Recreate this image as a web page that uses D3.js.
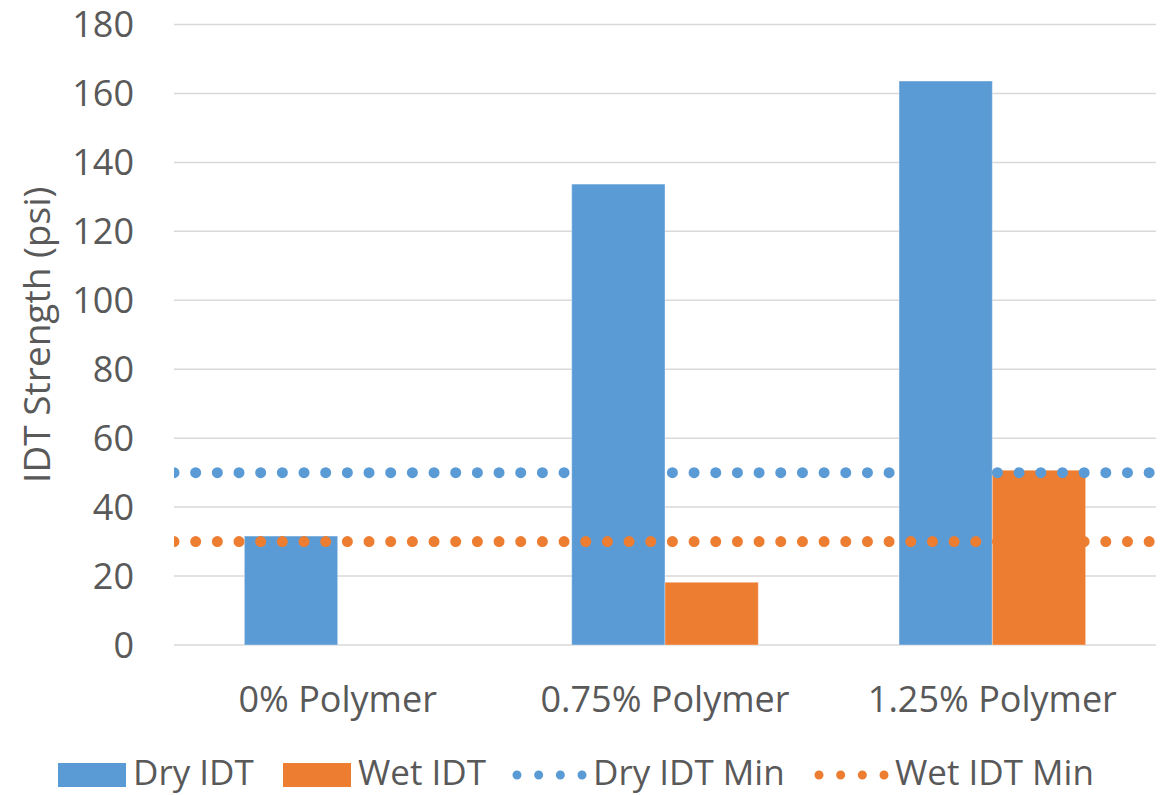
<!DOCTYPE html>
<html>
<head>
<meta charset="utf-8">
<script src="https://cdn.jsdelivr.net/npm/d3@7"></script>
<style>
  body { margin: 0; background: #fff; }
  text { font-family: "Open Sans", sans-serif; fill: #595959; }
</style>
</head>
<body>
<div id="chart"></div>
<script>
const categories = ["0% Polymer", "0.75% Polymer", "1.25% Polymer"];
const dryIdt = [31.6, 133.7, 163.6];
const wetIdt = [0, 18.2, 50.7];
const dryIdtMin = 50;
const wetIdtMin = 30;
const yTicks = [0, 20, 40, 60, 80, 100, 120, 140, 160, 180];

const width = 1163;
const height = 795;
const margin = { top: 24.5, right: 7, bottom: 150, left: 174 };
const blue = "#5B9BD5";
const orange = "#ED7D31";

const svg = d3.select("#chart").append("svg")
  .attr("width", width)
  .attr("height", height);

const innerW = width - margin.left - margin.right;
const innerH = height - margin.top - margin.bottom;

const g = svg.append("g").attr("transform", `translate(${margin.left},${margin.top})`);

const x = d3.scaleBand().domain(categories).range([0, innerW]).paddingInner(0.43).paddingOuter(0.215);
const xSub = d3.scaleBand().domain(["dry", "wet"]).range([0, x.bandwidth()]);
const y = d3.scaleLinear().domain([0, 180]).range([innerH, 0]);

// gridlines
g.append("g").selectAll("line").data(yTicks).join("line")
  .attr("x1", 0).attr("x2", innerW)
  .attr("y1", d => y(d)).attr("y2", d => y(d))
  .attr("stroke", "#D9D9D9").attr("stroke-width", 1.5);

// y axis labels
g.append("g").selectAll("text").data(yTicks).join("text")
  .attr("x", -40).attr("y", d => y(d))
  .attr("dy", "0.35em")
  .attr("text-anchor", "end")
  .style("font-size", "36px")
  .text(d => d);

// bars
const bars = categories.map((c, i) => [
  { cat: c, key: "dry", value: dryIdt[i], color: blue },
  { cat: c, key: "wet", value: wetIdt[i], color: orange },
]).flat().filter(d => d.value > 0);

g.append("g").selectAll("rect").data(bars).join("rect")
  .attr("x", d => x(d.cat) + xSub(d.key))
  .attr("width", xSub.bandwidth())
  .attr("y", d => y(d.value))
  .attr("height", d => y(0) - y(d.value))
  .attr("fill", d => d.color)
  .attr("stroke", "#fff").attr("stroke-opacity", 0.35).attr("stroke-width", 1);

// min lines (dotted)
svg.append("clipPath").attr("id", "plotclip").append("rect")
  .attr("x", 0).attr("y", -20).attr("width", innerW).attr("height", innerH + 40);

const mins = [
  { value: dryIdtMin, color: blue },
  { value: wetIdtMin, color: orange },
];
g.append("g").attr("clip-path", "url(#plotclip)")
  .selectAll("line").data(mins).join("line")
  .attr("x1", 0).attr("x2", innerW + 20)
  .attr("y1", d => y(d.value)).attr("y2", d => y(d.value))
  .attr("stroke", d => d.color)
  .attr("stroke-width", 11)
  .attr("stroke-linecap", "round")
  .attr("stroke-dasharray", "0,21.67");

// x axis labels
g.append("g").selectAll("text").data(categories).join("text")
  .attr("x", d => x(d) + x.bandwidth() / 2)
  .attr("y", innerH + 67)
  .attr("text-anchor", "middle")
  .style("font-size", "36px")
  .text(d => d);

// y axis title
svg.append("text")
  .attr("transform", `translate(50,${margin.top + innerH / 2}) rotate(-90)`)
  .attr("text-anchor", "middle")
  .style("font-size", "37px")
  .text("IDT Strength (psi)");

// legend
const legend = svg.append("g");
const legendItems = [
  { label: "Dry IDT", type: "rect", color: blue, x: 58 },
  { label: "Wet IDT", type: "rect", color: orange, x: 283 },
  { label: "Dry IDT Min", type: "dots", color: blue, x: 513 },
  { label: "Wet IDT Min", type: "dots", color: orange, x: 815 },
];
legendItems.forEach(item => {
  const li = legend.append("g").attr("transform", `translate(${item.x},0)`);
  if (item.type === "rect") {
    li.append("rect").attr("x", 0).attr("y", 763).attr("width", 68).attr("height", 24).attr("fill", item.color);
  } else {
    li.append("line")
      .attr("x1", 4).attr("x2", 75)
      .attr("y1", 775).attr("y2", 775)
      .attr("stroke", item.color)
      .attr("stroke-width", 9)
      .attr("stroke-linecap", "round")
      .attr("stroke-dasharray", "0,21.67");
  }
  li.append("text")
    .attr("x", item.type === "rect" ? 75 : 80)
    .attr("y", 785)
    .style("font-size", "35px")
    .text(item.label);
});
</script>
</body>
</html>
